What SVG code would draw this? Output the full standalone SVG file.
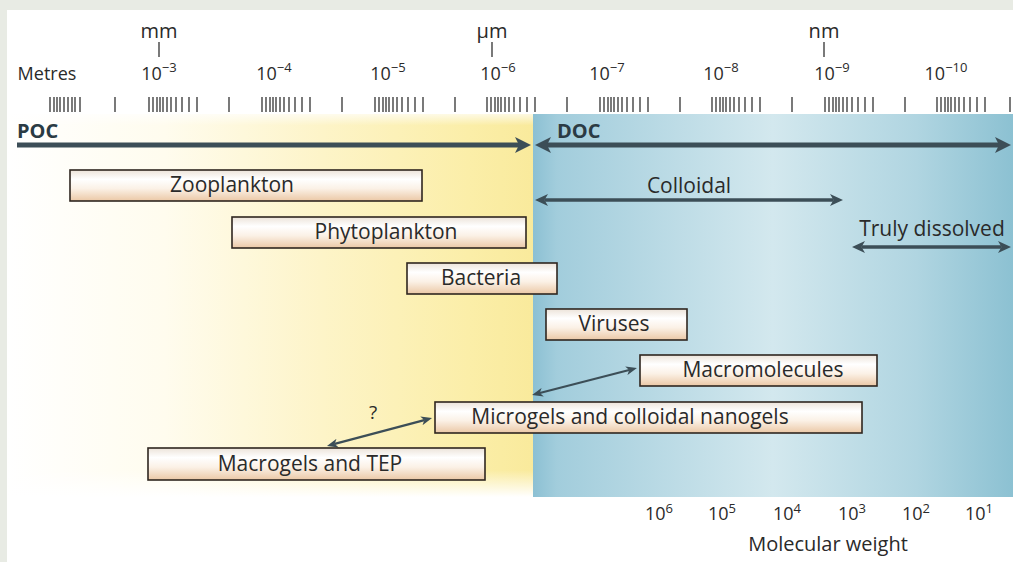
<svg xmlns="http://www.w3.org/2000/svg" width="1013" height="562" viewBox="0 0 1013 562">
<defs>
<style>
.t{font-family:"Open Sans","Liberation Sans",sans-serif;fill:#2a2a2a;}
.ax{font-size:18px;text-anchor:middle;}
.sup{font-size:13px;}
.lbl{font-size:21px;text-anchor:middle;}
.bold{font-family:"Open Sans","Liberation Sans",sans-serif;font-weight:bold;font-size:20px;fill:#2b3b44;}
.box{fill:url(#boxg);stroke:#2f2620;stroke-width:1.6;}
.arr{stroke:#3c4e57;fill:none;}
.tick{stroke:#333;stroke-width:1.3;fill:none;}
</style>
<linearGradient id="yel" x1="0" y1="0" x2="1" y2="0">
<stop offset="0" stop-color="#ffffff"/>
<stop offset="0.3" stop-color="#fffcee"/>
<stop offset="0.6" stop-color="#fdf4c8"/>
<stop offset="0.88" stop-color="#fbeea8"/>
<stop offset="1" stop-color="#f9ea9c"/>
</linearGradient>
<linearGradient id="blu" x1="0" y1="0" x2="1" y2="0">
<stop offset="0" stop-color="#8cc0d3"/>
<stop offset="0.05" stop-color="#a2cddc"/>
<stop offset="0.5" stop-color="#d3e8ee"/>
<stop offset="0.8" stop-color="#b0d5e1"/>
<stop offset="1" stop-color="#8cc1d2"/>
</linearGradient>
<linearGradient id="fadeV" x1="0" y1="0" x2="0" y2="1">
<stop offset="0" stop-color="#ffffff" stop-opacity="0.7"/>
<stop offset="0.03" stop-color="#ffffff" stop-opacity="0"/>
<stop offset="0.93" stop-color="#ffffff" stop-opacity="0"/>
<stop offset="1" stop-color="#ffffff" stop-opacity="1"/>
</linearGradient>
<linearGradient id="boxg" x1="0" y1="0" x2="0" y2="1">
<stop offset="0" stop-color="#ece3d9"/>
<stop offset="0.3" stop-color="#ffffff"/>
<stop offset="0.6" stop-color="#fbf1e6"/>
<stop offset="1" stop-color="#ebc8a6"/>
</linearGradient>
<marker id="mBig" viewBox="0 0 16 16" markerWidth="16" markerHeight="16" refX="4" refY="8" orient="auto-start-reverse" markerUnits="userSpaceOnUse">
<path d="M0,0 L16,8 L0,16 L4,8 z" fill="#3c4e57"/>
</marker>
<marker id="mMid" viewBox="0 0 13 12" markerWidth="13" markerHeight="12" refX="3.5" refY="6" orient="auto-start-reverse" markerUnits="userSpaceOnUse">
<path d="M0,0 L13,6 L0,12 L3.5,6 z" fill="#3c4e57"/>
</marker>
<marker id="mSm" viewBox="0 0 11 9" markerWidth="11" markerHeight="9" refX="3" refY="4.5" orient="auto-start-reverse" markerUnits="userSpaceOnUse">
<path d="M0,0 L11,4.5 L0,9 L3,4.5 z" fill="#3c4e57"/>
</marker>
</defs>

<g id="background">
<rect x="0" y="0" width="1013" height="562" fill="#e8ebe4"/>
<rect x="7" y="10" width="1006" height="552" fill="#ffffff"/>
<rect x="7" y="114" width="526" height="383" fill="url(#yel)"/>
<rect x="7" y="114" width="526" height="383" fill="url(#fadeV)"/>
<rect x="533" y="114" width="480" height="383" fill="url(#blu)"/>
</g>

<g id="scale">
<text class="t ax" x="47" y="80">Metres</text>
<text class="t" x="159" y="38" font-size="20" text-anchor="middle">mm</text>
<text class="t" x="492" y="38" font-size="20" text-anchor="middle">µm</text>
<text class="t" x="824" y="38" font-size="20" text-anchor="middle">nm</text>
<path class="tick" d="M159,42V57M492,42V57M824,42V57"/>
<text class="t ax" x="159" y="80">10<tspan class="sup" dy="-8">−3</tspan></text>
<text class="t ax" x="274" y="80">10<tspan class="sup" dy="-8">−4</tspan></text>
<text class="t ax" x="388" y="80">10<tspan class="sup" dy="-8">−5</tspan></text>
<text class="t ax" x="498" y="80">10<tspan class="sup" dy="-8">−6</tspan></text>
<text class="t ax" x="607" y="80">10<tspan class="sup" dy="-8">−7</tspan></text>
<text class="t ax" x="721" y="80">10<tspan class="sup" dy="-8">−8</tspan></text>
<text class="t ax" x="832" y="80">10<tspan class="sup" dy="-8">−9</tspan></text>
<text class="t ax" x="946" y="80">10<tspan class="sup" dy="-8">−10</tspan></text>
<path class="tick" d="M50,97V112M54,97V112M57,97V112M60,97V112M64,97V112M68,97V112M72,97V112M75,97V112M80,97V112M115,97V112
M149,97V112M153,97V112M157,97V112M160,97V112M163,97V112M167,97V112M171,97V112M176,97V112M182,97V112M189,97V112M197,97V112M229,97V112
M262,97V112M266,97V112M270,97V112M273,97V112M276,97V112M280,97V112M284,97V112M289,97V112M295,97V112M302,97V112M310,97V112M342,97V112
M375,97V112M379,97V112M383,97V112M386,97V112M389,97V112M393,97V112M397,97V112M402,97V112M408,97V112M415,97V112M423,97V112M455,97V112
M487,97V112M491,97V112M495,97V112M498,97V112M501,97V112M505,97V112M509,97V112M514,97V112M520,97V112M527,97V112M535,97V112M567,97V112
M600,97V112M604,97V112M608,97V112M611,97V112M614,97V112M618,97V112M622,97V112M627,97V112M633,97V112M640,97V112M648,97V112M680,97V112
M712,97V112M716,97V112M720,97V112M723,97V112M726,97V112M730,97V112M734,97V112M739,97V112M745,97V112M752,97V112M760,97V112M792,97V112
M825,97V112M829,97V112M833,97V112M836,97V112M839,97V112M843,97V112M847,97V112M852,97V112M858,97V112M865,97V112M873,97V112M905,97V112
M937,97V112M941,97V112M945,97V112M948,97V112M951,97V112M955,97V112M959,97V112M964,97V112M970,97V112M977,97V112M985,97V112M1010,97V112"/>
</g>

<g id="connectors">
<line class="arr" x1="17" y1="145" x2="519" y2="145" stroke-width="5" marker-end="url(#mBig)"/>
<line class="arr" x1="547" y1="145" x2="999" y2="145" stroke-width="5" marker-start="url(#mBig)" marker-end="url(#mBig)"/>
<line class="arr" x1="544.5" y1="200" x2="833.5" y2="200" stroke-width="3.5" marker-start="url(#mMid)" marker-end="url(#mMid)"/>
<line class="arr" x1="861.5" y1="247" x2="1001.5" y2="247" stroke-width="3.5" marker-start="url(#mMid)" marker-end="url(#mMid)"/>
<line class="arr" x1="539.8" y1="393" x2="629.2" y2="370" stroke-width="2.2" marker-start="url(#mSm)" marker-end="url(#mSm)"/>
<line class="arr" x1="334.7" y1="443.9" x2="424.3" y2="420.1" stroke-width="2.2" marker-start="url(#mSm)" marker-end="url(#mSm)"/>
</g>

<g id="labels">
<text class="bold" x="17" y="138">POC</text>
<text class="bold" x="557" y="138">DOC</text>
<text class="t lbl" x="689" y="193">Colloidal</text>
<text class="t lbl" x="932" y="236">Truly dissolved</text>
<text class="t" x="373" y="419" font-size="19" text-anchor="middle">?</text>
</g>

<g id="node-zooplankton"><rect class="box" x="70" y="170" width="352" height="31"/><text class="t lbl" x="232" y="192">Zooplankton</text></g>
<g id="node-phytoplankton"><rect class="box" x="232" y="217" width="294" height="31"/><text class="t lbl" x="386" y="239">Phytoplankton</text></g>
<g id="node-bacteria"><rect class="box" x="407" y="263" width="150" height="31"/><text class="t lbl" x="481" y="285">Bacteria</text></g>
<g id="node-viruses"><rect class="box" x="546" y="309" width="141" height="31"/><text class="t lbl" x="614" y="331">Viruses</text></g>
<g id="node-macromolecules"><rect class="box" x="640" y="355" width="237" height="31"/><text class="t lbl" x="763" y="377">Macromolecules</text></g>
<g id="node-microgels"><rect class="box" x="435" y="402" width="427" height="31"/><text class="t lbl" x="630" y="424">Microgels and colloidal nanogels</text></g>
<g id="node-macrogels"><rect class="box" x="148" y="448" width="337" height="32"/><text class="t lbl" x="310" y="471">Macrogels and TEP</text></g>

<g id="molecular-weight">
<text class="t ax" x="659" y="520">10<tspan class="sup" dy="-7">6</tspan></text>
<text class="t ax" x="722" y="520">10<tspan class="sup" dy="-7">5</tspan></text>
<text class="t ax" x="787" y="520">10<tspan class="sup" dy="-7">4</tspan></text>
<text class="t ax" x="852" y="520">10<tspan class="sup" dy="-7">3</tspan></text>
<text class="t ax" x="916" y="520">10<tspan class="sup" dy="-7">2</tspan></text>
<text class="t ax" x="979" y="520">10<tspan class="sup" dy="-7">1</tspan></text>
<text class="t" x="828" y="551" font-size="20" text-anchor="middle">Molecular weight</text>
</g>
</svg>
